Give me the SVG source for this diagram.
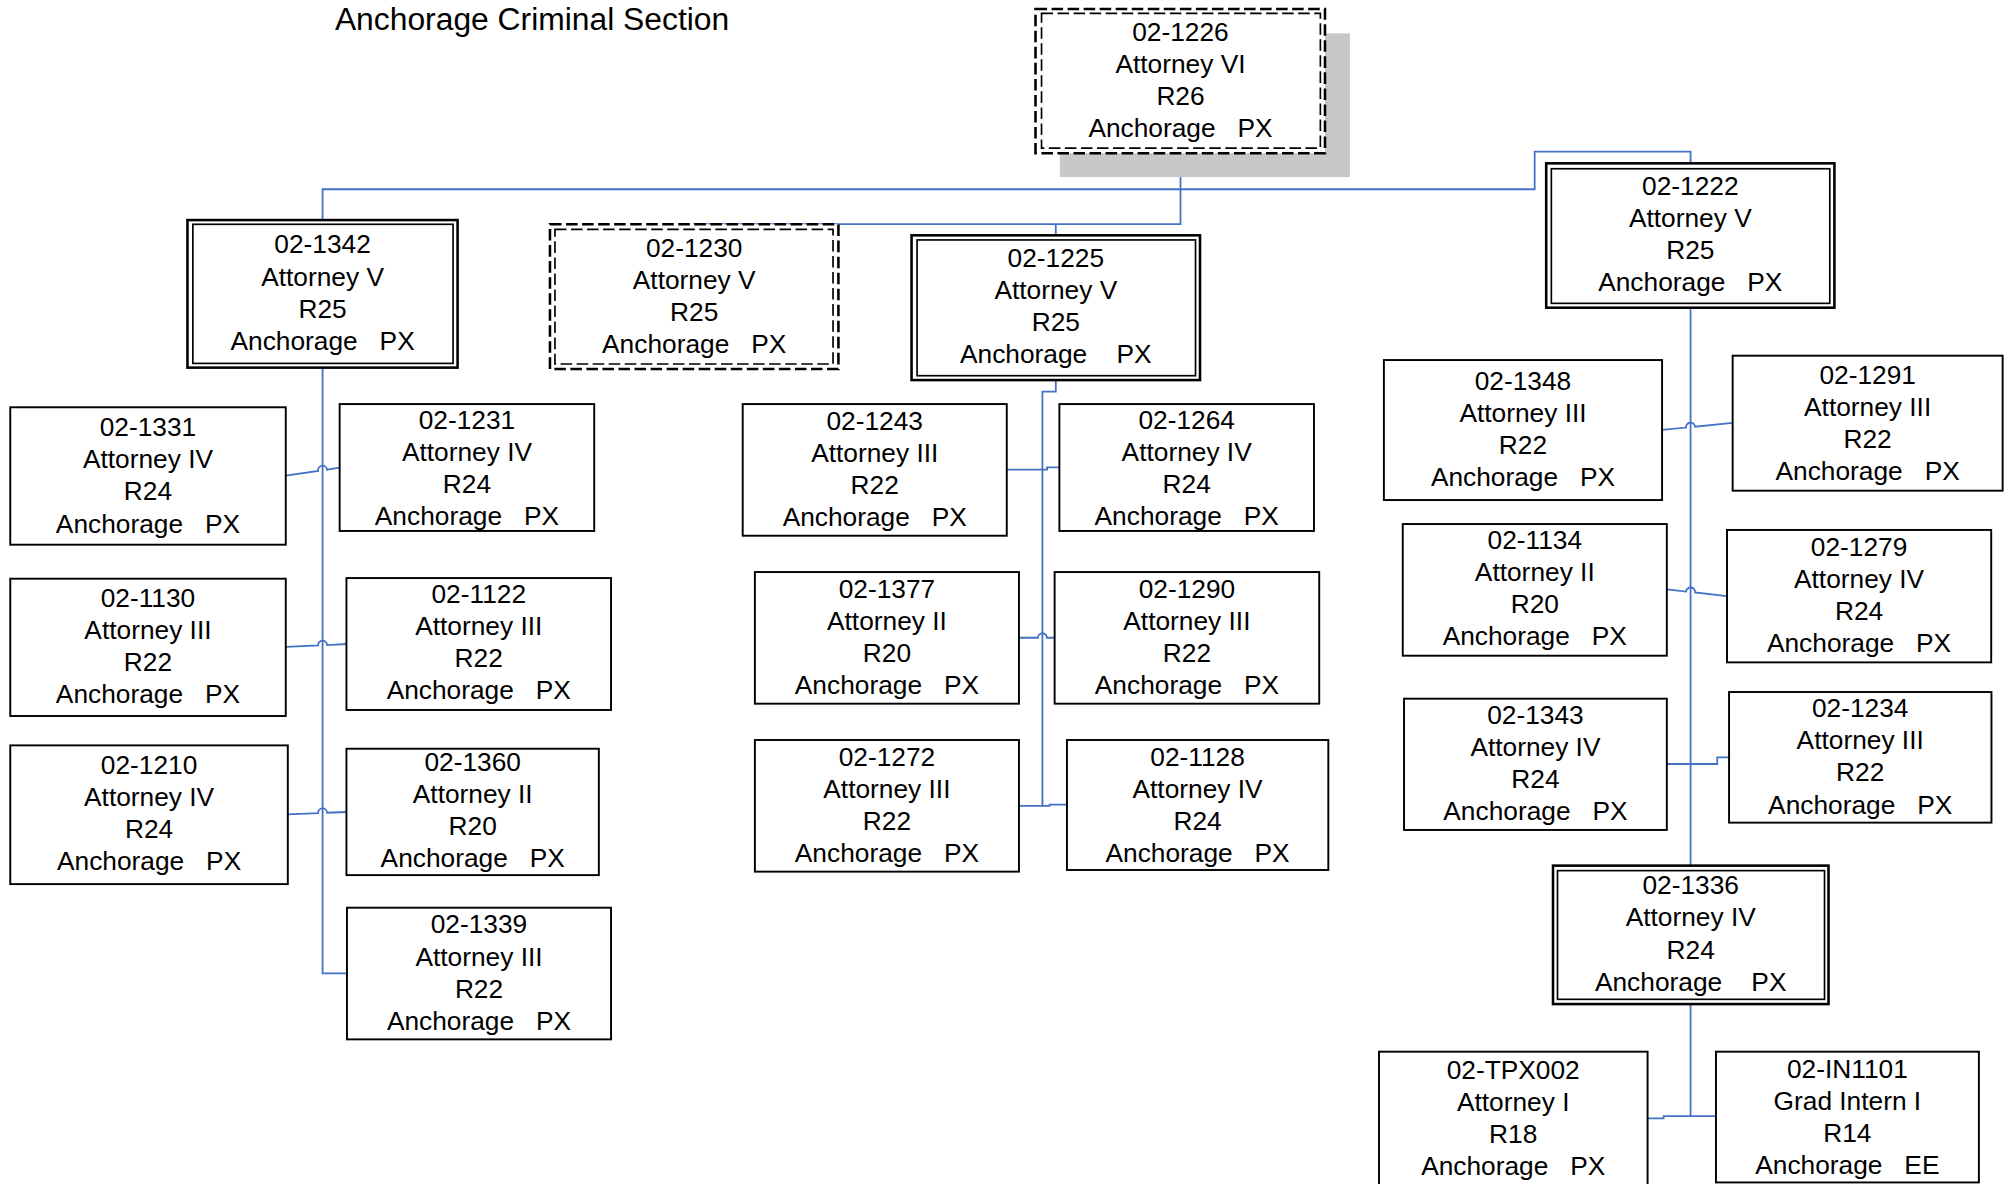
<svg xmlns="http://www.w3.org/2000/svg" width="2012" height="1184" viewBox="0 0 2012 1184">
<style>
.bx{fill:#fff;stroke:#000;stroke-width:1.5}
.bo{fill:#fff;stroke:#000;stroke-width:2}
.bi{fill:none;stroke:#000;stroke-width:1.3}
.dash{stroke-dasharray:9 3.5}
.sh{fill:#c8c8c8}
.t{font-family:"Liberation Sans",Arial,sans-serif;font-size:20.5px;fill:#000;text-anchor:middle;white-space:pre}
.title{font-family:"Liberation Sans",Arial,sans-serif;font-size:24.8px;fill:#000;white-space:pre}
.c{fill:none;stroke:#4472C4;stroke-width:1.4}
</style>
<rect width="2012" height="1184" fill="#fff"/>
<g transform="scale(1.28316)">
<text class="title" x="261" y="23">Anchorage Criminal Section</text>

<g id="connectors">
<path class="c" d="M920,119.4 V174.6 H541 V175"/>
<path class="c" d="M822.8,174.6 V183.4"/>
<path class="c" d="M251.4,171.5 V147.5 H1196 V118.2 H1317.5 V127.3"/>
<path class="c" d="M251.4,286.5 V758.5 H270.4"/>
<path class="c" d="M222.7,370.7 L247.9,367 A3.5,3.5 0 0 1 254.9,366 L264.7,364.5"/>
<path class="c" d="M222.7,504.2 L247.9,503 A3.5,3.5 0 0 1 254.9,502.7 L270,501.9"/>
<path class="c" d="M224.3,634.6 L247.9,633.7 A3.5,3.5 0 0 1 254.9,633.4 L270,632.8"/>
<path class="c" d="M822.8,296.2 V305.2 H812.4 V627.4"/>
<path class="c" d="M784.6,366 H816 V364.3 H825.6"/>
<path class="c" d="M794.1,497 H808.9 A3.5,3.5 0 0 1 815.9,497 H821.9"/>
<path class="c" d="M794.1,628 H818 V627 H831.5"/>
<path class="c" d="M1317.5,239.8 V674.6"/>
<path class="c" d="M1295.3,335 L1314,333.2 A3.5,3.5 0 0 1 1321,332.5 L1350.3,329.6"/>
<path class="c" d="M1299,459.3 L1314,461 A3.5,3.5 0 0 1 1321,461.7 L1345.9,464.5"/>
<path class="c" d="M1299,595.4 H1338.3 V590.2 H1347.5"/>
<path class="c" d="M1317.5,782.5 V870"/>
<path class="c" d="M1284,871.5 H1296.5 V869.8 H1337.3"/>
</g>

<g id="n-02-1226">
<rect class="sh" x="826" y="26" width="226" height="112"/>
<rect class="bo dash" x="807" y="7" width="225.6" height="112.4"/>
<rect class="bi dash" x="811.7" y="10.4" width="217.3" height="105.1"/>
<text class="t" xml:space="preserve"><tspan x="920" y="32">02-1226</tspan><tspan x="920" y="57">Attorney VI</tspan><tspan x="920" y="82">R26</tspan><tspan x="920" y="107">Anchorage   PX</tspan></text>
</g>

<g id="n-02-1342">
<rect class="bo" x="146.1" y="171.5" width="210.5" height="115"/>
<rect class="bi" x="150.3" y="174.8" width="202.8" height="108.4"/>
<text class="t" xml:space="preserve"><tspan x="251.4" y="197.5">02-1342</tspan><tspan x="251.4" y="222.5">Attorney V</tspan><tspan x="251.4" y="247.5">R25</tspan><tspan x="251.4" y="272.5">Anchorage   PX</tspan></text>
</g>

<g id="n-02-1230">
<rect class="bo dash" x="428.6" y="174.8" width="224.8" height="112.8"/>
<rect class="bi dash" x="432.5" y="178.7" width="216.7" height="105"/>
<text class="t" xml:space="preserve"><tspan x="541" y="200">02-1230</tspan><tspan x="541" y="225">Attorney V</tspan><tspan x="541" y="250">R25</tspan><tspan x="541" y="275">Anchorage   PX</tspan></text>
</g>

<g id="n-02-1225">
<rect class="bo" x="710.4" y="183.4" width="224.8" height="112.8"/>
<rect class="bi" x="714.7" y="187" width="217" height="105.8"/>
<text class="t" xml:space="preserve"><tspan x="822.8" y="208">02-1225</tspan><tspan x="822.8" y="233">Attorney V</tspan><tspan x="822.8" y="258">R25</tspan><tspan x="822.8" y="283">Anchorage    PX</tspan></text>
</g>

<g id="n-02-1222">
<rect class="bo" x="1205" y="127.3" width="224.6" height="112.5"/>
<rect class="bi" x="1209" y="131.5" width="217" height="104.9"/>
<text class="t" xml:space="preserve"><tspan x="1317.3" y="152">02-1222</tspan><tspan x="1317.3" y="177">Attorney V</tspan><tspan x="1317.3" y="202">R25</tspan><tspan x="1317.3" y="227">Anchorage   PX</tspan></text>
</g>

<g id="n-02-1331">
<rect class="bx" x="8" y="317.4" width="214.7" height="107.1"/>
<text class="t" xml:space="preserve"><tspan x="115.3" y="340">02-1331</tspan><tspan x="115.3" y="365">Attorney IV</tspan><tspan x="115.3" y="390">R24</tspan><tspan x="115.3" y="415">Anchorage   PX</tspan></text>
</g>

<g id="n-02-1231">
<rect class="bx" x="264.7" y="314.9" width="198.4" height="98.9"/>
<text class="t" xml:space="preserve"><tspan x="363.9" y="334">02-1231</tspan><tspan x="363.9" y="359">Attorney IV</tspan><tspan x="363.9" y="384">R24</tspan><tspan x="363.9" y="409">Anchorage   PX</tspan></text>
</g>

<g id="n-02-1130">
<rect class="bx" x="8" y="451" width="214.7" height="107"/>
<text class="t" xml:space="preserve"><tspan x="115.3" y="473">02-1130</tspan><tspan x="115.3" y="498">Attorney III</tspan><tspan x="115.3" y="523">R22</tspan><tspan x="115.3" y="548">Anchorage   PX</tspan></text>
</g>

<g id="n-02-1122">
<rect class="bx" x="270" y="450.5" width="206.2" height="102.8"/>
<text class="t" xml:space="preserve"><tspan x="373.1" y="470">02-1122</tspan><tspan x="373.1" y="495">Attorney III</tspan><tspan x="373.1" y="520">R22</tspan><tspan x="373.1" y="545">Anchorage   PX</tspan></text>
</g>

<g id="n-02-1210">
<rect class="bx" x="8" y="580.9" width="216.3" height="108.1"/>
<text class="t" xml:space="preserve"><tspan x="116.2" y="603">02-1210</tspan><tspan x="116.2" y="628">Attorney IV</tspan><tspan x="116.2" y="653">R24</tspan><tspan x="116.2" y="678">Anchorage   PX</tspan></text>
</g>

<g id="n-02-1360">
<rect class="bx" x="270" y="583.5" width="196.7" height="98.5"/>
<text class="t" xml:space="preserve"><tspan x="368.4" y="601">02-1360</tspan><tspan x="368.4" y="626">Attorney II</tspan><tspan x="368.4" y="651">R20</tspan><tspan x="368.4" y="676">Anchorage   PX</tspan></text>
</g>

<g id="n-02-1339">
<rect class="bx" x="270.4" y="707.4" width="205.8" height="102.6"/>
<text class="t" xml:space="preserve"><tspan x="373.3" y="727.5">02-1339</tspan><tspan x="373.3" y="752.5">Attorney III</tspan><tspan x="373.3" y="777.5">R22</tspan><tspan x="373.3" y="802.5">Anchorage   PX</tspan></text>
</g>

<g id="n-02-1243">
<rect class="bx" x="578.8" y="314.9" width="205.8" height="102.6"/>
<text class="t" xml:space="preserve"><tspan x="681.7" y="335">02-1243</tspan><tspan x="681.7" y="360">Attorney III</tspan><tspan x="681.7" y="385">R22</tspan><tspan x="681.7" y="410">Anchorage   PX</tspan></text>
</g>

<g id="n-02-1264">
<rect class="bx" x="825.6" y="314.9" width="198.4" height="98.9"/>
<text class="t" xml:space="preserve"><tspan x="924.8" y="334">02-1264</tspan><tspan x="924.8" y="359">Attorney IV</tspan><tspan x="924.8" y="384">R24</tspan><tspan x="924.8" y="409">Anchorage   PX</tspan></text>
</g>

<g id="n-02-1377">
<rect class="bx" x="588.3" y="445.8" width="205.8" height="102.6"/>
<text class="t" xml:space="preserve"><tspan x="691.2" y="466">02-1377</tspan><tspan x="691.2" y="491">Attorney II</tspan><tspan x="691.2" y="516">R20</tspan><tspan x="691.2" y="541">Anchorage   PX</tspan></text>
</g>

<g id="n-02-1290">
<rect class="bx" x="821.9" y="445.8" width="206.2" height="102.6"/>
<text class="t" xml:space="preserve"><tspan x="925" y="466">02-1290</tspan><tspan x="925" y="491">Attorney III</tspan><tspan x="925" y="516">R22</tspan><tspan x="925" y="541">Anchorage   PX</tspan></text>
</g>

<g id="n-02-1272">
<rect class="bx" x="588.3" y="576.7" width="205.8" height="102.6"/>
<text class="t" xml:space="preserve"><tspan x="691.2" y="597">02-1272</tspan><tspan x="691.2" y="622">Attorney III</tspan><tspan x="691.2" y="647">R22</tspan><tspan x="691.2" y="672">Anchorage   PX</tspan></text>
</g>

<g id="n-02-1128">
<rect class="bx" x="831.5" y="576.7" width="203.7" height="101.3"/>
<text class="t" xml:space="preserve"><tspan x="933.3" y="597">02-1128</tspan><tspan x="933.3" y="622">Attorney IV</tspan><tspan x="933.3" y="647">R24</tspan><tspan x="933.3" y="672">Anchorage   PX</tspan></text>
</g>

<g id="n-02-1348">
<rect class="bx" x="1078.5" y="280.6" width="216.8" height="109.1"/>
<text class="t" xml:space="preserve"><tspan x="1186.9" y="304">02-1348</tspan><tspan x="1186.9" y="329">Attorney III</tspan><tspan x="1186.9" y="354">R22</tspan><tspan x="1186.9" y="379">Anchorage   PX</tspan></text>
</g>

<g id="n-02-1291">
<rect class="bx" x="1350.3" y="277.2" width="210.4" height="105.2"/>
<text class="t" xml:space="preserve"><tspan x="1455.5" y="299">02-1291</tspan><tspan x="1455.5" y="324">Attorney III</tspan><tspan x="1455.5" y="349">R22</tspan><tspan x="1455.5" y="374">Anchorage   PX</tspan></text>
</g>

<g id="n-02-1134">
<rect class="bx" x="1093.2" y="408.4" width="205.8" height="102.6"/>
<text class="t" xml:space="preserve"><tspan x="1196.1" y="428">02-1134</tspan><tspan x="1196.1" y="453">Attorney II</tspan><tspan x="1196.1" y="478">R20</tspan><tspan x="1196.1" y="503">Anchorage   PX</tspan></text>
</g>

<g id="n-02-1279">
<rect class="bx" x="1345.9" y="413" width="205.9" height="103.2"/>
<text class="t" xml:space="preserve"><tspan x="1448.8" y="433">02-1279</tspan><tspan x="1448.8" y="458">Attorney IV</tspan><tspan x="1448.8" y="483">R24</tspan><tspan x="1448.8" y="508">Anchorage   PX</tspan></text>
</g>

<g id="n-02-1343">
<rect class="bx" x="1094.2" y="544.5" width="204.8" height="102.3"/>
<text class="t" xml:space="preserve"><tspan x="1196.6" y="564">02-1343</tspan><tspan x="1196.6" y="589">Attorney IV</tspan><tspan x="1196.6" y="614">R24</tspan><tspan x="1196.6" y="639">Anchorage   PX</tspan></text>
</g>

<g id="n-02-1234">
<rect class="bx" x="1347.5" y="539.3" width="204.5" height="101.8"/>
<text class="t" xml:space="preserve"><tspan x="1449.7" y="559">02-1234</tspan><tspan x="1449.7" y="584">Attorney III</tspan><tspan x="1449.7" y="609">R22</tspan><tspan x="1449.7" y="634">Anchorage   PX</tspan></text>
</g>

<g id="n-02-1336">
<rect class="bo" x="1210.3" y="674.6" width="214.7" height="107.9"/>
<rect class="bi" x="1213.8" y="678.5" width="208.1" height="100.3"/>
<text class="t" xml:space="preserve"><tspan x="1317.6" y="697">02-1336</tspan><tspan x="1317.6" y="722">Attorney IV</tspan><tspan x="1317.6" y="747">R24</tspan><tspan x="1317.6" y="772">Anchorage    PX</tspan></text>
</g>

<g id="n-02-TPX002">
<rect class="bx" x="1074.7" y="819.6" width="209.3" height="105"/>
<text class="t" xml:space="preserve"><tspan x="1179.3" y="841">02-TPX002</tspan><tspan x="1179.3" y="866">Attorney I</tspan><tspan x="1179.3" y="891">R18</tspan><tspan x="1179.3" y="916">Anchorage   PX</tspan></text>
</g>

<g id="n-02-IN1101">
<rect class="bx" x="1337.3" y="819.6" width="204.9" height="101.9"/>
<text class="t" xml:space="preserve"><tspan x="1439.7" y="840">02-IN1101</tspan><tspan x="1439.7" y="865">Grad Intern I</tspan><tspan x="1439.7" y="890">R14</tspan><tspan x="1439.7" y="915">Anchorage   EE</tspan></text>
</g>
</g>
</svg>
